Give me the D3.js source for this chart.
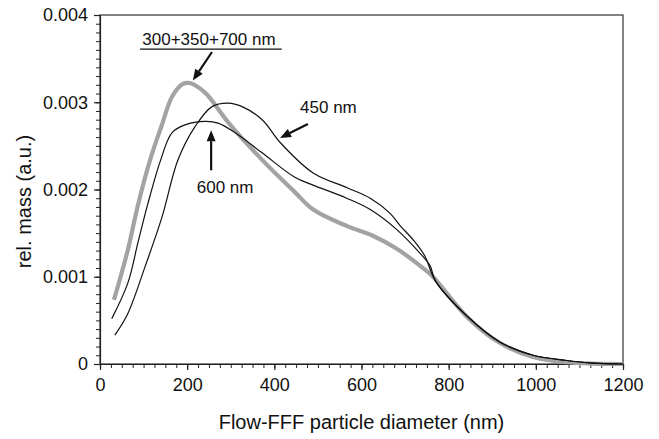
<!DOCTYPE html>
<html><head><meta charset="utf-8">
<script src="https://cdn.jsdelivr.net/npm/d3@7/dist/d3.min.js"></script>
<style>body{margin:0;background:#fff}text{font-family:"Liberation Sans",Arial,sans-serif;fill:#111}</style>
</head><body><svg id="c" width="659" height="439"></svg>
<script>
// ---- data ----
const xTicks = [0,200,400,600,800,1000,1200];
const yTicks = [0,0.001,0.002,0.003,0.004];
const mixD = [32,64,87,115,142,165,190,206,241,294,372,447,489,567,626,681,741,764,842,918,994,1071,1130,1200];
const mixV = [0.000734,0.00131,0.00182,0.00234,0.00274,0.00306,0.00321,0.00322,0.00311,0.00277,0.00234,0.00197,0.00177,0.00158,0.00147,0.00132,0.0011,0.00100,0.00054,0.00024,0.00008,0.00002,0.000005,0];
const s450D = [34,64,103,142,179,218,257,294,326,372,415,489,567,620,665,688,719,745,770,842,918,994,1071,1130,1200];
const s450V = [0.00033,0.00058,0.00111,0.00168,0.00234,0.00272,0.00295,0.00299,0.00295,0.0028,0.00253,0.00219,0.00202,0.0019,0.00173,0.00159,0.00142,0.00124,0.00095,0.00055,0.00025,0.0001,0.00004,0.00001,0];
const s600D = [27,64,87,110,138,165,195,241,271,310,372,447,489,566,620,681,734,757,770,842,918,994,1071,1130,1200];
const s600V = [0.00052,0.00093,0.00139,0.00184,0.00232,0.00265,0.00274,0.00278,0.00276,0.00265,0.00242,0.00214,0.00205,0.0019,0.00177,0.00154,0.00127,0.00113,0.00095,0.00055,0.00025,0.0001,0.00004,0.00001,0];
const labels = ["300+350+700 nm","450 nm","600 nm"];

// ---- layout ----
const svg = d3.select("#c");
const L=100,R=623,T=15,B=364;
const x = d3.scaleLinear().domain([0,1200]).range([L,R]);
const y = d3.scaleLinear().domain([0,0.004]).range([B,T]);

// frame
svg.append("rect").attr("x",L).attr("y",T).attr("width",R-L).attr("height",B-T)
  .attr("fill","none").attr("stroke","#333").attr("stroke-width",1.2);

// x axis
const xa = svg.append("g").attr("transform",`translate(0,${B})`)
  .call(d3.axisBottom(x).tickValues(d3.range(0,1201,25)).tickSize(4).tickFormat(""));
xa.select(".domain").attr("stroke","#222").attr("stroke-width",1.2);
xa.selectAll(".tick line").attr("stroke","#222").attr("stroke-width",1);
const xb = svg.append("g").attr("transform",`translate(0,${B})`)
  .call(d3.axisBottom(x).tickValues(xTicks).tickSize(6).tickPadding(8).tickFormat(d3.format("d")));
xb.select(".domain").remove();
xb.selectAll(".tick line").attr("stroke","#222").attr("stroke-width",1.2);
xb.selectAll("text").attr("font-size","18px").attr("fill","#111").style("font-family","Liberation Sans, Arial, sans-serif");

// y axis
const ya = svg.append("g").attr("transform",`translate(${L},0)`)
  .call(d3.axisLeft(y).tickValues(d3.range(0,41).map(i=>i*0.0001)).tickSize(4).tickFormat(""));
ya.select(".domain").attr("stroke","#222").attr("stroke-width",1.2);
ya.selectAll(".tick line").attr("stroke","#222").attr("stroke-width",1);
const yb = svg.append("g").attr("transform",`translate(${L},0)`)
  .call(d3.axisLeft(y).tickValues(yTicks).tickSize(6).tickPadding(6).tickFormat(d=>d===0?"0":d3.format(".3f")(d)));
yb.select(".domain").remove();
yb.selectAll(".tick line").attr("stroke","#222").attr("stroke-width",1.2);
yb.selectAll("text").attr("font-size","18px").attr("fill","#111").style("font-family","Liberation Sans, Arial, sans-serif");

// axis titles
svg.append("text").attr("x",(L+R)/2).attr("y",429).attr("text-anchor","middle")
  .attr("font-size","20px").text("Flow-FFF particle diameter (nm)");
svg.append("text").attr("transform",`translate(31,${(T+B)/2+12}) rotate(-90)`).attr("text-anchor","middle")
  .attr("font-size","20px").text("rel. mass (a.u.)");

// lines
const line = d3.line().x(d=>x(d[0])).y(d=>y(d[1])).curve(d3.curveCatmullRom.alpha(0.5));
const zip=(a,b)=>a.map((v,i)=>[v,b[i]]);
svg.append("path").datum(zip(mixD,mixV)).attr("d",line).attr("fill","none").attr("stroke","#a3a3a3").attr("stroke-width",4.2);
svg.append("path").datum(zip(s450D,s450V)).attr("d",line).attr("fill","none").attr("stroke","#111").attr("stroke-width",1.2);
svg.append("path").datum(zip(s600D,s600V)).attr("d",line).attr("fill","none").attr("stroke","#111").attr("stroke-width",1.2);

// annotations
function arrow(d0,v0,d1,v1){
  const x0=x(d0),y0=y(v0),x1=x(d1),y1=y(v1);
  const a=Math.atan2(y1-y0,x1-x0), hl=11, hw=4.5;
  const bx=x1-hl*Math.cos(a), by=y1-hl*Math.sin(a);
  svg.append("line").attr("x1",x0).attr("y1",y0).attr("x2",bx).attr("y2",by).attr("stroke","#111").attr("stroke-width",2.2);
  svg.append("path").attr("d",`M${x1},${y1}L${bx+hw*Math.sin(a)},${by-hw*Math.cos(a)}L${bx-hw*Math.sin(a)},${by+hw*Math.cos(a)}Z`).attr("fill","#111");
}
svg.append("text").attr("x",x(250)).attr("y",y(0.00366)).attr("text-anchor","middle").attr("font-size","17px").text(labels[0]);
svg.append("line").attr("x1",x(92)).attr("x2",x(417)).attr("y1",y(0.00361)).attr("y2",y(0.00361)).attr("stroke","#111").attr("stroke-width",1.2);
arrow(257,0.003576,213,0.00325);
svg.append("text").attr("x",x(459)).attr("y",y(0.002877)).attr("font-size","17px").text(labels[1]);
arrow(477,0.00275,413,0.00259);
svg.append("text").attr("x",x(287)).attr("y",y(0.00196)).attr("text-anchor","middle").attr("font-size","17px").text(labels[2]);
arrow(255,0.00222,255,0.00268);
</script></body></html>
